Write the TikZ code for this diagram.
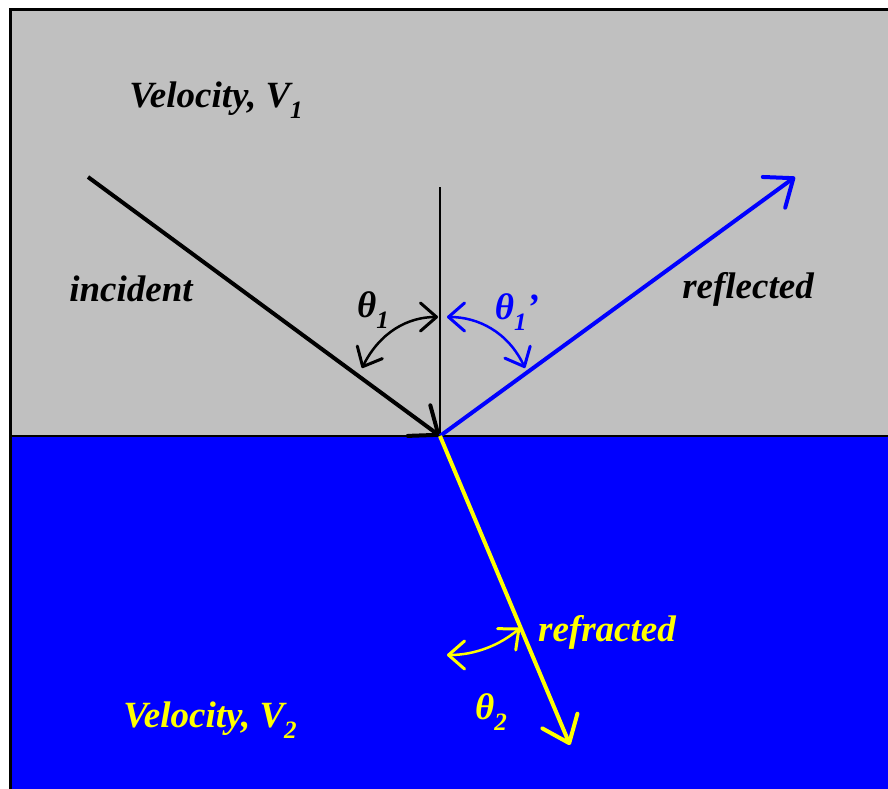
\documentclass[tikz,border=0pt]{standalone}
\usepackage{fontspec}
\setmainfont{Liberation Serif}
\usetikzlibrary{arrows.meta}
\definecolor{bggray}{HTML}{C0C0C0}
\definecolor{water}{HTML}{0000FF}
\definecolor{ray}{HTML}{FFFF00}
\newcommand{\lbl}{\fontsize{37}{40}\selectfont\bfseries\itshape}
\newcommand{\sbx}[1]{\raisebox{-0.28em}{\fontsize{25}{26}\selectfont #1}}
\begin{document}
\begin{tikzpicture}[x=1pt,y=-1pt,
  bigtip/.style={-{Straight Barb[length=24pt,width=38pt,line width=4pt,round]}},
  smalltip/.style={{Straight Barb[length=16pt,width=28pt,line width=3pt,round]}-{Straight Barb[length=16pt,width=28pt,line width=3pt,round]}},
  txt/.style={inner sep=0pt,font=\lbl}]
\useasboundingbox (0,0) rectangle (888,789);
\fill[bggray] (10,10) rectangle (888,436);
\fill[water] (10,436) rectangle (888,789);
\draw[line width=2pt] (10,436) -- (888,436);
\draw[line width=3pt] (10,789) -- (10,10) -- (888,10);
\coordinate (O) at (440,436);
\coordinate (N) at (440,187);
\coordinate (I) at (88,177);
\coordinate (R) at (795,177);
\coordinate (T) at (570,745);
\draw[line width=2pt] (O) -- (N);
\draw[line width=4pt,bigtip] (I) -- (O);
\draw[line width=4pt,water,bigtip] (O) -- (R);
\draw[line width=4pt,ray,bigtip] (O) -- (T);
\coordinate (a1) at (362,368); \coordinate (a2) at (438,317);
\draw[line width=2.5pt,smalltip] (a1) .. controls (380,332) and (408,317) .. (a2);
\coordinate (b1) at (447,317); \coordinate (b2) at (525,368);
\draw[line width=2.5pt,water,smalltip] (b1) .. controls (478,317) and (508,332) .. (b2);
\coordinate (c1) at (447,655); \coordinate (c2) at (520,628);
\draw[line width=2.5pt,ray,smalltip] (c1) .. controls (475,655) and (500,645) .. (c2);
\node[txt] (v1) at (216,100) {Velocity, V\sbx{1}};
\node[txt] (inc) at (131,289) {incident};
\node[txt] (refl) at (748,289) {reflected};
\node[txt] (t1) at (373,310) {θ\sbx{1}};
\node[txt,text=water] (t1p) at (517,312) {θ\sbx{1}’};
\node[txt,text=ray] (refr) at (607,632) {refracted};
\node[txt,text=ray] (t2) at (491,712) {θ\sbx{2}};
\node[txt,text=ray] (v2) at (210,720) {Velocity, V\sbx{2}};
\end{tikzpicture}
\end{document}
